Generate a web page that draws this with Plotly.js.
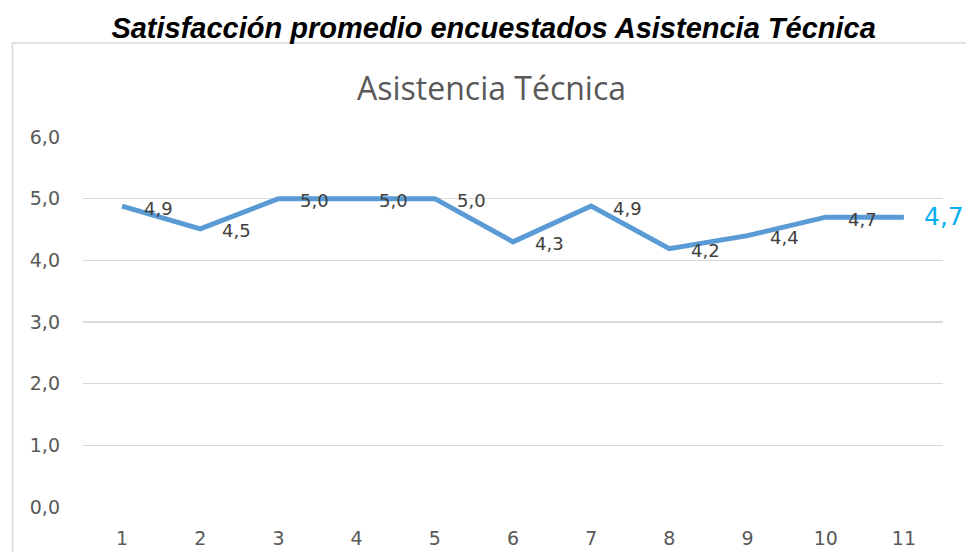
<!DOCTYPE html>
<html>
<head>
<meta charset="utf-8">
<script src="https://cdn.plot.ly/plotly-3.0.1.min.js"></script>
<style>html,body{margin:0;padding:0;background:#fff;}#chart{width:966px;height:552px;}</style>
</head>
<body>
<div id="chart"></div>
<script>
const categories = ['1','2','3','4','5','6','7','8','9','10','11'];
const values = [4.88, 4.51, 5.0, 5.0, 5.0, 4.30, 4.88, 4.19, 4.40, 4.70, 4.70];
const labels = ['4,9','4,5','5,0','5,0','5,0','4,3','4,9','4,2','4,4','4,7','4,7'];
const yTicks = [0, 1, 2, 3, 4, 5, 6];
const yTickText = ['0,0','1,0','2,0','3,0','4,0','5,0','6,0'];
const outerTitle = 'Satisfacción promedio encuestados Asistencia Técnica';
const innerTitle = 'Asistencia Técnica';

const trace = {
  x: categories, y: values, type: 'scatter', mode: 'lines',
  line: {color: '#5B9BD5', width: 5}, hoverinfo: 'skip', showlegend: false
};

const annotations = labels.map((t, i) => {
  const last = i === labels.length - 1;
  return {
    x: i, y: values[i], xref: 'x', yref: 'y', text: t, showarrow: false,
    xanchor: 'left', yanchor: 'middle', xshift: last ? 18 : 20, yshift: last ? 1 : -2,
    font: {family: 'DejaVu Sans, sans-serif', size: last ? 25 : 18, color: last ? '#00B0F0' : '#404040'}
  };
});
annotations.push({
  text: innerTitle, xref: 'paper', yref: 'paper', x: 0.475, y: 1.135,
  xanchor: 'center', yanchor: 'middle', showarrow: false,
  font: {family: 'Open Sans, sans-serif', size: 32, color: '#595959'}
});

const layout = {
  width: 966, height: 552,
  margin: {l: 83, r: 23, t: 137, b: 45},
  paper_bgcolor: '#ffffff', plot_bgcolor: '#ffffff',
  separators: ',.',
  title: {
    text: '<b><i>' + outerTitle + '</i></b>',
    font: {family: 'Liberation Sans, Arial, sans-serif', size: 29, color: '#000000'},
    x: 0.511, xanchor: 'center', y: 0.95, yanchor: 'middle', yref: 'container'
  },
  xaxis: {
    type: 'category', range: [-0.5, 10.5], showgrid: false, zeroline: false, showline: false,
    ticks: '', ticklabelstandoff: 18,
    tickfont: {family: 'DejaVu Sans, sans-serif', size: 19, color: '#595959'}
  },
  yaxis: {
    range: [0, 6], tickvals: yTicks, ticktext: yTickText, showgrid: true,
    gridcolor: '#D9D9D9', gridwidth: 1.5, zeroline: false, showline: false, ticks: '',
    ticklabelstandoff: 22,
    tickfont: {family: 'DejaVu Sans, sans-serif', size: 19, color: '#595959'}
  },
  shapes: [{
    type: 'rect', xref: 'paper', yref: 'paper', x0: -0.082, x1: 1.2, y0: -0.3, y1: 1.254,
    line: {color: '#D9D9D9', width: 1.5}, fillcolor: 'rgba(0,0,0,0)', layer: 'below'
  }],
  annotations: annotations
};

Plotly.newPlot('chart', [trace], layout, {displayModeBar: false, staticPlot: true});
</script>
</body>
</html>
